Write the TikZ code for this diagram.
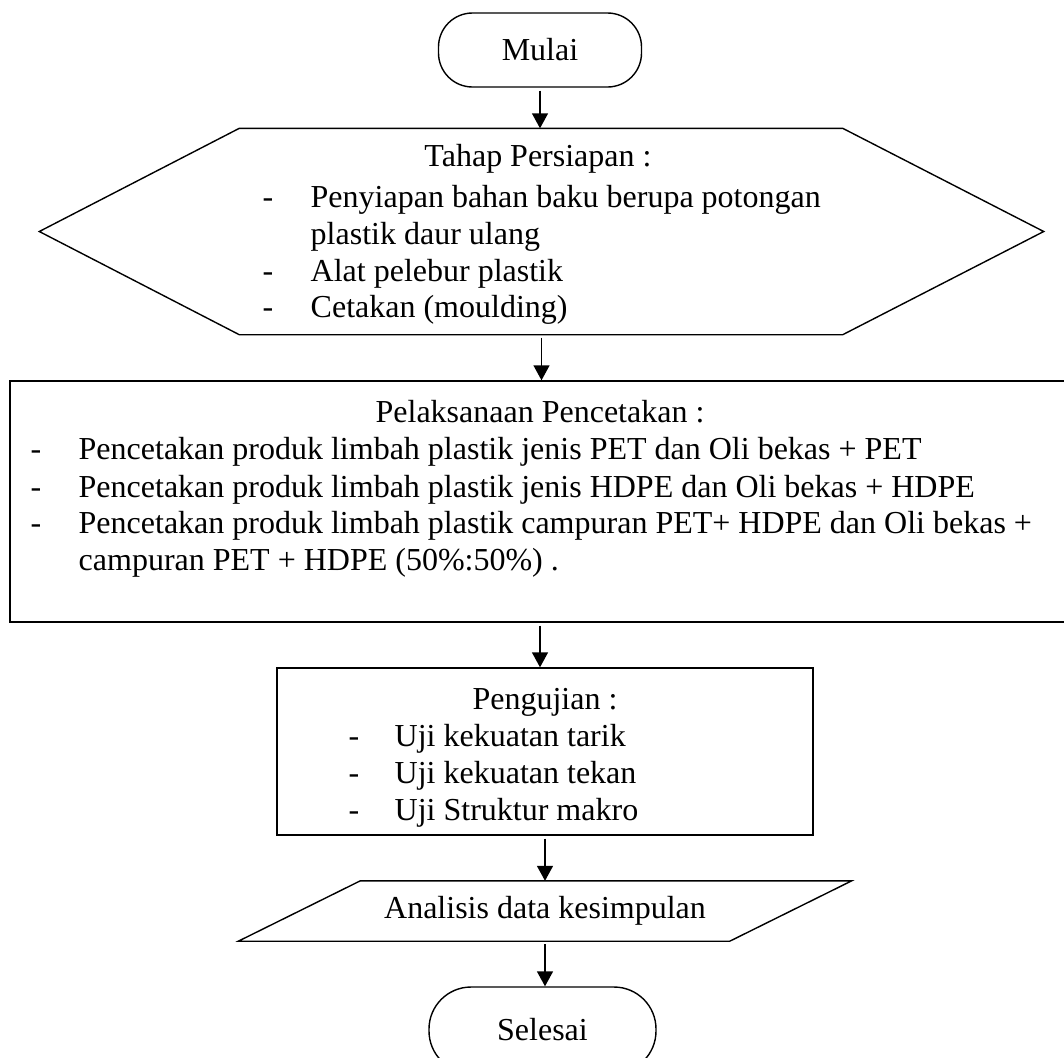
\documentclass[tikz,border=0pt]{standalone}
\usepackage{fontspec}
\setmainfont{Liberation Serif}
\usetikzlibrary{arrows.meta}
\begin{document}
\begin{tikzpicture}[x=0.5pt,y=-0.5pt,line width=0.7pt,
  font=\fontsize{16}{18}\selectfont,
  every node/.style={inner sep=0pt},
  flow/.style={-{Triangle[length=7.5pt,width=8pt]},shorten <=1.5pt},
  txt/.style={anchor=base west},
  ttl/.style={anchor=base}]

\useasboundingbox (0,0) rectangle (1064,1057);
\clip (0,0) rectangle (1064,1057);

% start and end
\node[draw,rounded corners=17pt,minimum width=101.5pt,minimum height=37pt] (mulai) at (540,50) {Mulai};
\node[draw,rounded corners=21pt,minimum width=113.5pt,minimum height=43pt] (selesai) at (542.5,1030) {Selesai};

% preparation (hexagon)
\node[minimum width=501.5pt,minimum height=102.5pt] (prep) at (541.5,231.5) {};
\draw (prep.west) -- ([xshift=100pt]prep.north west) -- ([xshift=-100.5pt]prep.north east)
  -- (prep.east) -- ([xshift=-100.5pt]prep.south east) -- ([xshift=100pt]prep.south west) -- cycle;
\node[ttl] (prept) at (538,166) {Tahap Persiapan :};
\node[txt] (prep1) at (310,207) {Penyiapan bahan baku berupa potongan};
\node[txt] (prep2) at (310,244) {plastik daur ulang};
\node[txt] (prep3) at (310,281) {Alat pelebur plastik};
\node[txt] (prep4) at (310,317) {Cetakan (moulding)};
\foreach \y in {207,281,317}
	\node[txt] (pd\y) at (262,\y) {-};

% moulding
\node[draw,minimum width=530pt,minimum height=120.5pt] (exec) at (540,501.5) {};
\node[ttl] (exect) at (540,422) {Pelaksanaan Pencetakan :};
\node[txt] (exec1) at (78,459) {Pencetakan produk limbah plastik jenis PET dan Oli bekas + PET};
\node[txt] (exec2) at (78,497) {Pencetakan produk limbah plastik jenis HDPE dan Oli bekas + HDPE};
\node[txt] (exec3) at (78,533) {Pencetakan produk limbah plastik campuran PET+ HDPE dan Oli bekas +};
\node[txt] (exec4) at (78,570) {campuran PET + HDPE (50\%:50\%) .};
\foreach \y in {459,497,533}
	\node[txt] (ed\y) at (30,\y) {-};

% testing
\node[draw,minimum width=268pt,minimum height=83.5pt] (test) at (545,751.5) {};
\node[ttl] (testt) at (545,709) {Pengujian :};
\node[txt] (test1) at (394,746) {Uji kekuatan tarik};
\node[txt] (test2) at (394,783) {Uji kekuatan tekan};
\node[txt] (test3) at (394,820) {Uji Struktur makro};
\foreach \y in {746,783,820}
	\node[txt] (td\y) at (348,\y) {-};

% analysis (parallelogram)
\node[minimum width=245pt,minimum height=29.5pt] (ana) at (545,911) {Analisis data kesimpulan};
\draw ([xshift=30.5pt]ana.north west) -- ([xshift=30.5pt]ana.north east)
  -- ([xshift=-30.5pt]ana.south east) -- ([xshift=-30.5pt]ana.south west) -- cycle;

% arrows
\draw[flow] (mulai.south) -- (mulai.south |- prep.north);
\draw[flow] (prep.south) -- (prep.south |- exec.north);
\draw[flow] (exec.south) -- (exec.south |- test.north);
\draw[flow] (test.south) -- (test.south |- ana.north);
\draw[flow] (ana.south) -- (ana.south |- selesai.north);

\end{tikzpicture}
\end{document}
